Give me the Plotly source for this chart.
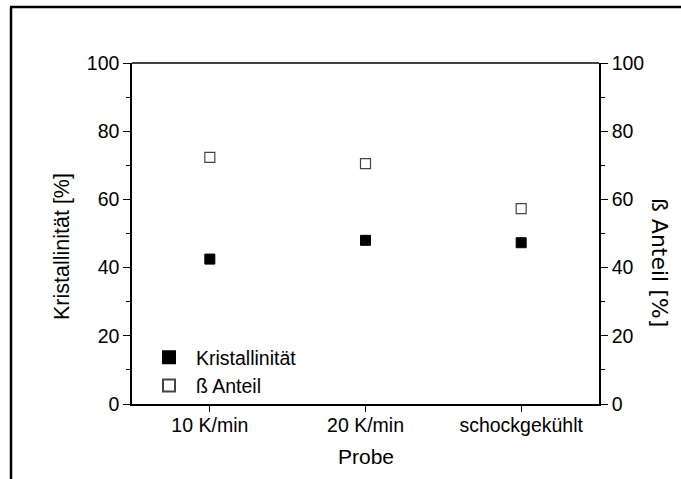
import plotly.graph_objects as go

categories = ["10 K/min", "20 K/min", "schockgekühlt"]
kristallinitaet = [42.5, 48.0, 47.3]
beta_anteil = [72.3, 70.5, 57.3]
y_ticks = [0, 20, 40, 60, 80, 100]

FONT = "Liberation Sans, Arial, sans-serif"
W, H = 681, 479
L, R, T, B = 132, 599, 63, 404
pw, ph = R - L, B - T

def px_x(p):
    return (p - L) / pw

def px_y(p):
    return (B - p) / ph

fig = go.Figure()
fig.add_trace(go.Scatter(
    x=categories, y=kristallinitaet, mode="markers", name="Kristallinität",
    marker=dict(symbol="square", size=10, color="black", line=dict(color="black", width=1)),
    yaxis="y",
))
fig.add_trace(go.Scatter(
    x=categories, y=beta_anteil, mode="markers", name="ß Anteil",
    marker=dict(symbol="square", size=10, color="white", line=dict(color="#444444", width=1.2)),
    yaxis="y2",
))

axis_common = dict(
    range=[0, 100], tickvals=y_ticks, ticks="outside", ticklen=7, tickwidth=1.2,
    tickcolor="black", showline=True, linecolor="black", linewidth=1.5,
    showgrid=False, zeroline=False, tickfont=dict(size=19.5, color="black", family=FONT),
    minor=dict(ticks="outside", ticklen=4, dtick=10, tickcolor="black", tickwidth=1.2, showgrid=False),
)

fig.update_layout(
    width=W, height=H,
    margin=dict(l=L, r=W - R, t=T, b=H - B),
    paper_bgcolor="white", plot_bgcolor="white",
    font=dict(family=FONT, color="black"),
    showlegend=True,
    legend=dict(x=px_x(142), y=px_y(338), xanchor="left", yanchor="top",
                bgcolor="rgba(0,0,0,0)", font=dict(size=19.5, color="black", family=FONT),
                itemsizing="constant", itemwidth=44, tracegroupgap=0),
    xaxis=dict(
        type="category", range=[-0.5, 2.5], ticks="outside", ticklen=6, tickwidth=1.2,
        tickcolor="black", showline=True, linecolor="black", linewidth=1.5,
        showgrid=False, zeroline=False, tickfont=dict(size=19.5, color="black", family=FONT),
    ),
    yaxis=dict(side="left", **axis_common),
    yaxis2=dict(side="right", overlaying="y", **axis_common),
    shapes=[
        dict(type="line", xref="paper", yref="paper", x0=0, x1=1, y0=1, y1=1,
             line=dict(color="#404040", width=2)),
        dict(type="line", xref="paper", yref="paper", x0=px_x(11), x1=px_x(11),
             y0=px_y(7), y1=px_y(485), line=dict(color="black", width=2.5)),
        dict(type="line", xref="paper", yref="paper", x0=px_x(10), x1=px_x(690),
             y0=px_y(7), y1=px_y(7), line=dict(color="black", width=2.5)),
    ],
    annotations=[
        dict(text="Kristallinität [%]", xref="paper", yref="paper", x=px_x(62), y=px_y(247),
             showarrow=False, textangle=-90, font=dict(size=21.5, color="black", family=FONT),
             xanchor="center", yanchor="middle"),
        dict(text="ß Anteil [%]", xref="paper", yref="paper", x=px_x(660), y=px_y(262),
             showarrow=False, textangle=90,
             font=dict(size=22, color="black", family="DejaVu Sans, sans-serif"),
             xanchor="center", yanchor="middle"),
        dict(text="Probe", xref="paper", yref="paper", x=px_x(366), y=px_y(456),
             showarrow=False, font=dict(size=21, color="black", family=FONT),
             xanchor="center", yanchor="middle"),
    ],
)

try:
    fig.update_xaxes(ticklabelstandoff=-3)
except Exception:
    pass

fig.write_html(
    "out.html",
    config={"displayModeBar": False},
    post_script="document.body.style.margin='0';document.body.style.overflow='hidden';",
)
